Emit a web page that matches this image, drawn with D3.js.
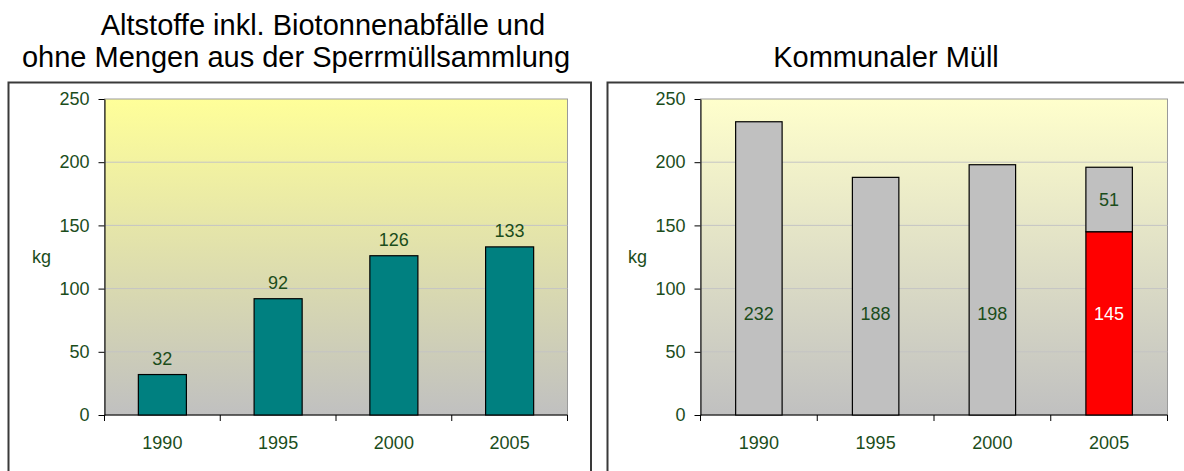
<!DOCTYPE html>
<html lang="de">
<head>
    <meta charset="UTF-8">
    <title>Altstoffe und Kommunaler Müll</title>
    <script src="https://d3js.org/d3.v7.min.js"></script>
    <style>
        body {
            margin: 0;
            background: #ffffff;
            font-family: 'Liberation Sans', Arial, sans-serif;
        }
        .title {
            font-size: 29px;
            fill: #000000;
        }
        .tick text, .cat-label, .val-label, .unit {
            font-size: 18px;
            fill: #1b4d1b;
        }
    </style>
</head>
<body>
    <svg id="chart" width="1184" height="471"></svg>

    <script>
        // Data
        const years = ["1990", "1995", "2000", "2005"];
        const altstoffe = [32, 92, 126, 133];
        const kommunalBase = [232, 188, 198, 145];
        const kommunalTop = [0, 0, 0, 51];
        const yTicks = [0, 50, 100, 150, 200, 250];

        const svg = d3.select("#chart");

        const textColor = "#1b4d1b";

        // gradients for plot backgrounds
        const defs = svg.append("defs");
        function addGradient(id, top, bottom) {
            const g = defs.append("linearGradient")
                .attr("id", id)
                .attr("x1", 0).attr("y1", 0).attr("x2", 0).attr("y2", 1);
            g.append("stop").attr("offset", "0%").attr("stop-color", top);
            g.append("stop").attr("offset", "100%").attr("stop-color", bottom);
        }
        addGradient("bgLeft", "#ffff99", "#c0c0c0");
        addGradient("bgRight", "#ffffcc", "#c0c0c0");

        function drawPanel(o) {
            // outer frame
            svg.append("rect")
                .attr("x", o.frame[0]).attr("y", o.frame[1])
                .attr("width", o.frame[2]).attr("height", o.frame[3])
                .attr("fill", "none")
                .attr("stroke", "#3a3a3a")
                .attr("stroke-width", 2);

            const x = d3.scaleBand()
                .domain(years)
                .range([o.left, o.right])
                .paddingInner(o.pad)
                .paddingOuter(o.pad / 2);

            const y = d3.scaleLinear()
                .domain([0, 250])
                .range([o.bottom, o.top]);

            // plot area background
            svg.append("rect")
                .attr("x", o.left).attr("y", o.top)
                .attr("width", o.right - o.left).attr("height", o.bottom - o.top)
                .attr("fill", `url(#${o.gradient})`)
                .attr("stroke", "#9a9a9a")
                .attr("stroke-width", 1);

            // gridlines
            svg.append("g")
                .selectAll("line")
                .data(yTicks.filter(t => t > 0 && t < 250))
                .join("line")
                .attr("x1", o.left).attr("x2", o.right)
                .attr("y1", d => y(d)).attr("y2", d => y(d))
                .attr("stroke", "#c4c4c4")
                .attr("stroke-width", 1);

            // y axis
            const yAxis = svg.append("g")
                .attr("transform", `translate(${o.left},0)`)
                .call(d3.axisLeft(y).tickValues(yTicks).tickSize(6).tickSizeOuter(0).tickPadding(9));
            yAxis.select(".domain").attr("stroke", "#000");
            yAxis.selectAll(".tick line").attr("stroke", "#000");
            yAxis.selectAll(".tick text")
                .attr("font-family", "'Liberation Sans', Arial, sans-serif")
                .attr("font-size", 18)
                .attr("fill", textColor);

            // x axis line and boundary ticks
            svg.append("line")
                .attr("x1", o.left).attr("x2", o.right)
                .attr("y1", o.bottom).attr("y2", o.bottom)
                .attr("stroke", "#000").attr("stroke-width", 1.2);
            svg.append("g")
                .selectAll("line")
                .data(d3.range(years.length + 1))
                .join("line")
                .attr("x1", i => o.left + i * x.step())
                .attr("x2", i => o.left + i * x.step())
                .attr("y1", o.bottom).attr("y2", o.bottom + 6)
                .attr("stroke", "#000");

            // category labels
            svg.append("g")
                .selectAll("text")
                .data(years)
                .join("text")
                .attr("class", "cat-label")
                .attr("x", d => x(d) + x.bandwidth() / 2)
                .attr("y", o.bottom + 34)
                .attr("text-anchor", "middle")
                .text(d => d);

            // unit label
            svg.append("text")
                .attr("class", "unit")
                .attr("x", o.unitX)
                .attr("y", 263)
                .text("kg");

            // titles
            o.titles.forEach(t => {
                svg.append("text")
                    .attr("class", "title")
                    .attr("x", t.x)
                    .attr("y", t.y)
                    .attr("text-anchor", "middle")
                    .text(t.text);
            });

            return { x, y };
        }

        // Left panel: Altstoffe
        const left = drawPanel({
            frame: [8.5, 82.5, 582.5, 400],
            left: 104.5, right: 567.5, top: 99, bottom: 415,
            pad: 0.585,
            gradient: "bgLeft",
            unitX: 32,
            titles: [
                { text: "Altstoffe inkl. Biotonnenabfälle und", x: 323, y: 35 },
                { text: "ohne Mengen aus der Sperrmüllsammlung", x: 296, y: 67 }
            ]
        });

        svg.append("g")
            .selectAll("rect")
            .data(years)
            .join("rect")
            .attr("x", d => left.x(d))
            .attr("y", (d, i) => left.y(altstoffe[i]))
            .attr("width", left.x.bandwidth())
            .attr("height", (d, i) => left.y(0) - left.y(altstoffe[i]))
            .attr("fill", "#008080")
            .attr("stroke", "#000")
            .attr("stroke-width", 1.2);

        svg.append("g")
            .selectAll("text")
            .data(years)
            .join("text")
            .attr("class", "val-label")
            .attr("x", d => left.x(d) + left.x.bandwidth() / 2)
            .attr("y", (d, i) => left.y(altstoffe[i]) - 10)
            .attr("text-anchor", "middle")
            .text((d, i) => altstoffe[i]);

        // Right panel: Kommunaler Müll
        const right = drawPanel({
            frame: [607.5, 82.5, 600, 400],
            left: 700.5, right: 1167.5, top: 99, bottom: 415,
            pad: 0.602,
            gradient: "bgRight",
            unitX: 628,
            titles: [
                { text: "Kommunaler Müll", x: 886, y: 67 }
            ]
        });

        const stackRows = years.map((yr, i) => ({ year: yr, base: kommunalBase[i], top: kommunalTop[i] }));
        const last = years[years.length - 1];

        // bottom segment
        svg.append("g")
            .selectAll("rect")
            .data(stackRows)
            .join("rect")
            .attr("x", d => right.x(d.year))
            .attr("y", d => right.y(d.base))
            .attr("width", right.x.bandwidth())
            .attr("height", d => right.y(0) - right.y(d.base))
            .attr("fill", d => d.year === last ? "#ff0000" : "#c0c0c0")
            .attr("stroke", "#000")
            .attr("stroke-width", 1.2);

        // top segment
        svg.append("g")
            .selectAll("rect")
            .data(stackRows.filter(d => d.top > 0))
            .join("rect")
            .attr("x", d => right.x(d.year))
            .attr("y", d => right.y(d.base + d.top))
            .attr("width", right.x.bandwidth())
            .attr("height", d => right.y(d.base) - right.y(d.base + d.top))
            .attr("fill", "#c0c0c0")
            .attr("stroke", "#000")
            .attr("stroke-width", 1.2);

        // labels
        svg.append("g")
            .selectAll("text")
            .data(stackRows)
            .join("text")
            .attr("class", "val-label")
            .attr("x", d => right.x(d.year) + right.x.bandwidth() / 2)
            .attr("y", right.y(80))
            .attr("dy", "0.35em")
            .attr("text-anchor", "middle")
            .style("fill", d => d.year === last ? "#ffffff" : textColor)
            .text(d => d.base);

        svg.append("g")
            .selectAll("text")
            .data(stackRows.filter(d => d.top > 0))
            .join("text")
            .attr("class", "val-label")
            .attr("x", d => right.x(d.year) + right.x.bandwidth() / 2)
            .attr("y", d => right.y(d.base + d.top / 2))
            .attr("dy", "0.35em")
            .attr("text-anchor", "middle")
            .text(d => d.top);
    </script>
</body>
</html>
